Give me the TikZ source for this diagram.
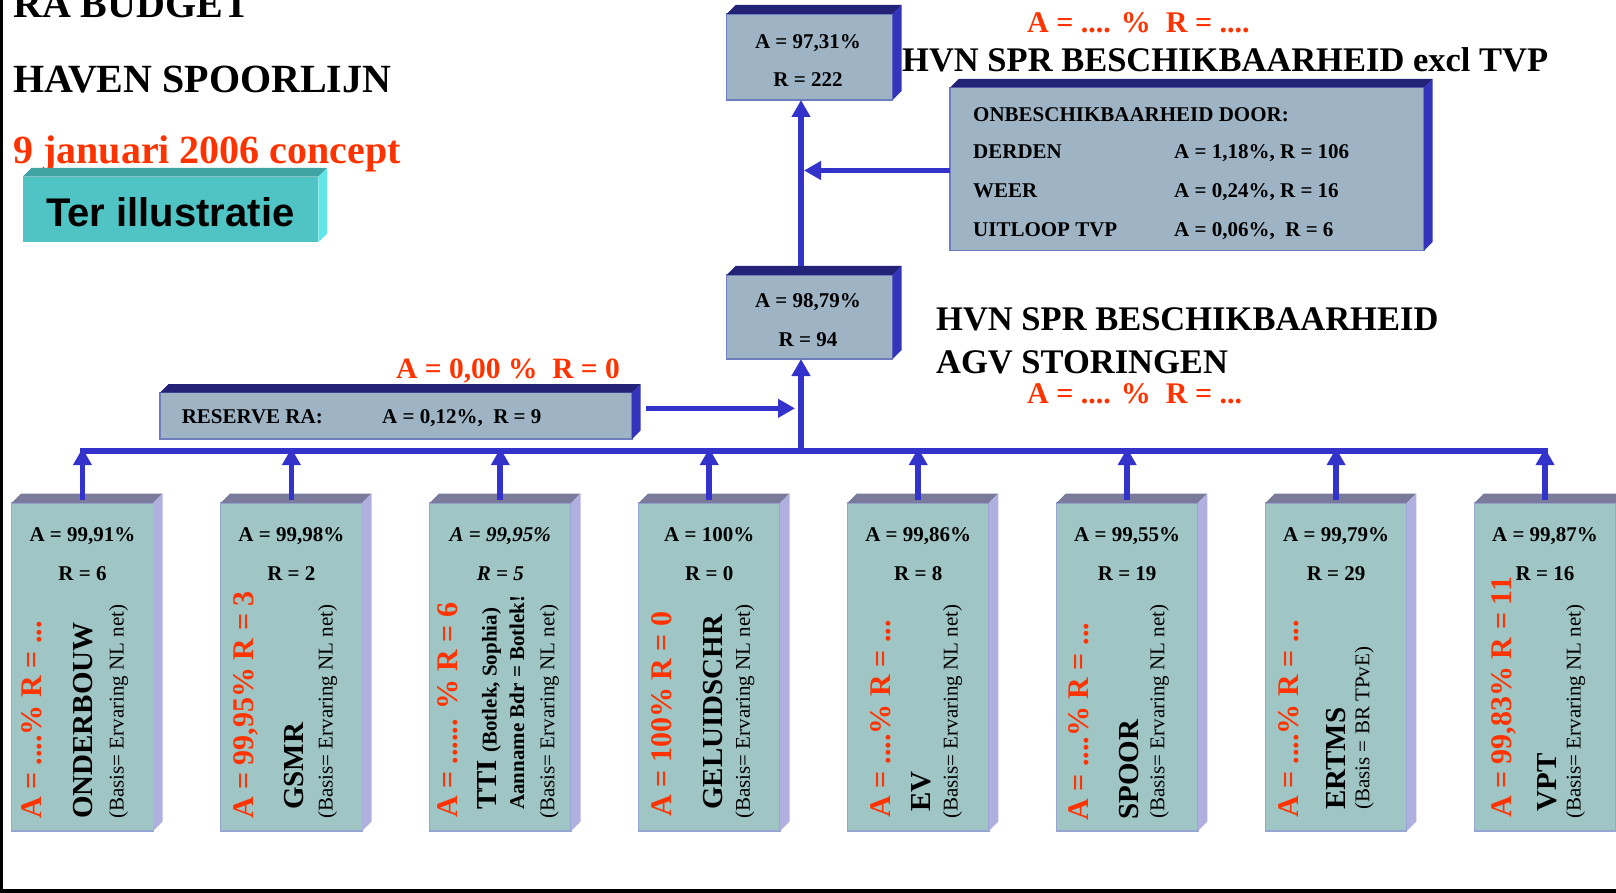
\documentclass[tikz,border=0pt]{standalone}
\usepackage{fontspec}
\setmainfont{Liberation Serif}
\newfontfamily\arialfont{Liberation Sans}
\usetikzlibrary{arrows.meta,calc}
\definecolor{hred}{RGB}{255,51,0}
\definecolor{lineblue}{RGB}{51,51,204}
\definecolor{ufront}{RGB}{158,180,197}
\definecolor{utop}{RGB}{34,34,119}
\definecolor{uside}{RGB}{51,51,187}
\definecolor{uedge}{RGB}{110,125,190}
\definecolor{lfront}{RGB}{160,197,197}
\definecolor{ltop}{RGB}{122,122,155}
\definecolor{lside}{RGB}{176,176,224}
\definecolor{ledge}{RGB}{150,165,210}
\definecolor{tfront}{RGB}{80,196,196}
\definecolor{ttop}{RGB}{64,164,164}
\definecolor{tside}{RGB}{96,230,230}
\newcommand\fs[1]{\fontsize{#1}{#1}\selectfont}
\newcommand\boxfaces[4]{%
  \fill[#3] (#1.north west) -- ++(#2,-#2) -- ([shift={(#2,-#2)}]#1.north east) -- (#1.north east) -- cycle;
  \fill[#4] (#1.north east) -- ++(#2,-#2) -- ([shift={(#2,-#2)}]#1.south east) -- (#1.south east) -- cycle;
}
\begin{document}
\begin{tikzpicture}[x=1pt,y=-1pt,
  ubox/.style={draw=uedge,line width=1.2pt,fill=ufront,inner sep=0,outer sep=0},
  lbox/.style={draw=ledge,line width=1.2pt,fill=lfront,inner sep=0,outer sep=0,minimum width=141.5pt,minimum height=328pt},
  conn/.style={draw=lineblue,line width=5.7pt},
  arr/.style={conn,-{Triangle[length=17pt,width=18pt]}},
  title/.style={anchor=base west,inner sep=0,font=\fs{40}\bfseries},
  head/.style={anchor=base west,inner sep=0,font=\fs{34.5}\bfseries},
  redt/.style={anchor=base west,inner sep=0,text=hred,font=\fs{30}\bfseries},
  btxt/.style={anchor=base,inner sep=0,font=\fs{21}\bfseries},
  ltxt/.style={anchor=base west,inner sep=0,font=\fs{21}\bfseries},
  redv/.style={rotate=90,anchor=base west,inner sep=0,text=hred,font=\fs{30}\bfseries},
  namev/.style={rotate=90,anchor=base west,inner sep=0,font=\fs{29}\bfseries},
  smallv/.style={rotate=90,anchor=base west,inner sep=0,font=\fs{21}\bfseries},
  basisv/.style={rotate=90,anchor=base west,inner sep=0,font=\fs{21}}
]
\useasboundingbox (0,0) rectangle (1616,893);
% frame edges
\fill[black] (0,0) rectangle (3.3,893);
\fill[black] (0,889.3) rectangle (1616,893);

% titles
\node[title] (t1) at (13,18) {RA BUDGET};
\node[title] (t2) at (13,92.7) {HAVEN SPOORLIJN};
\node[title,text=hred] (t3) at (13,164) {9 januari 2006 concept};

% Ter illustratie
\node[fill=tfront,inner sep=0,outer sep=0,minimum width=295.6pt,minimum height=65.6pt] (ter) at (170.5,209.5) {};
\boxfaces{ter}{8.7}{ttop}{tside}
\node[anchor=base west,inner sep=0,font=\arialfont\bfseries\fs{40}] (tertxt) at (46,226.7) {Ter illustratie};

% upper boxes
\node[ubox,minimum width=166pt,minimum height=86pt] (topbox) at (809.5,57) {};
\boxfaces{topbox}{9}{utop}{uside}
\node[ubox,minimum width=166pt,minimum height=84pt] (midbox) at (809.5,317) {};
\boxfaces{midbox}{9}{utop}{uside}
\node[ubox,minimum width=474pt,minimum height=163pt] (onbox) at (1187,169) {};
\boxfaces{onbox}{8.7}{utop}{uside}
\node[ubox,minimum width=472pt,minimum height=46.3pt] (resbox) at (396,415.85) {};
\boxfaces{resbox}{8.7}{utop}{uside}

% lower boxes
\foreach \i in {1,...,8}{
  \node[lbox] (b\i) at ({11.7+(\i-1)*208.94+70.75},667) {};
  \boxfaces{b\i}{9.5}{ltop}{lside}
}

% connectors
\coordinate (barc) at (0,451);
\coordinate (bartop) at (0,448.2);
\coordinate (mline) at (801,451);
\draw[conn,line cap=rect] (b1.north |- barc) -- (b8.north |- barc);
\foreach \i in {1,...,8}{
  \draw[arr] ([yshift=3pt]b\i.north) -- (b\i.north |- bartop);
}
\draw[arr] (mline) -- (midbox.south -| mline);
\draw[arr] ($(midbox.north -| mline)+(0,-9)$) -- (topbox.south -| mline);
\draw[arr] ($(onbox.west)+(0,1.5)$) -- ($(onbox.west -| mline)+(3,1.5)$);
\draw[arr] ($(resbox.east)+(14,-7.5)$) -- ($(resbox.east -| mline)+(-6,-7.5)$);

% upper texts
\node[btxt] (tb1) at (808,48.6) {A = 97,31\%};
\node[btxt] (tb2) at (808,87) {R = 222};
\node[btxt] (mb1) at (808,307) {A = 98,79\%};
\node[btxt] (mb2) at (808,346) {R = 94};
\node[redt] (r1) at (1027,33) {A = .... \%\ \ R = ....};
\node[head] (h1) at (902,72) {HVN SPR BESCHIKBAARHEID excl TVP};
\node[head] (h2) at (936,330) {HVN SPR BESCHIKBAARHEID};
\node[head] (h3) at (936,373) {AGV STORINGEN};
\node[redt] (r2) at (1027,403) {A = .... \%\ \ R = ...};
\node[redt,font=\fs{29.5}\bfseries] (r3) at (396,378.5) {A = 0,00 \%\ \ R = 0};

\node[ltxt] (o1) at (973,122) {ONBESCHIKBAARHEID DOOR:};
\node[ltxt] (o2) at (973,158.6) {DERDEN};
\node[ltxt] (o3) at (973,197.6) {WEER};
\node[ltxt] (o4) at (973,236.2) {UITLOOP TVP};
\node[ltxt] (o2b) at (1174,158.6) {A = 1,18\%, R = 106};
\node[ltxt] (o3b) at (1174,197.6) {A = 0,24\%, R = 16};
\node[ltxt] (o4b) at (1174,236.2) {A = 0,06\%,\ \ R = 6};

\node[ltxt] (rs1) at (181.6,423.5) {RESERVE RA:};
\node[ltxt] (rs2) at (382,423.5) {A = 0,12\%,\ \ R = 9};

% lower box texts
\node[btxt] (b1a) at (82.45,541.7) {A = 99,91\%};
\node[btxt] (b1r) at (82.45,580) {R = 6};
\node[redv] (b1x) at (41.4,819) {A = ....\% R = ...};
\node[namev] (b1n) at (92.4,819) {ONDERBOUW};
\node[basisv] (b1b) at (123.7,819) {(Basis= Ervaring NL net)};

\node[btxt] (b2a) at (291.39,541.7) {A = 99,98\%};
\node[btxt] (b2r) at (291.39,580) {R = 2};
\node[redv] (b2x) at (253.9,819) {A = 99,95\% R = 3};
\node[namev] (b2n) at (303.9,810) {GSMR};
\node[basisv] (b2b) at (332.6,819) {(Basis= Ervaring NL net)};

\node[btxt,font=\fs{21}\bfseries\itshape] (b3a) at (500.33,541.7) {A = 99,95\%};
\node[btxt,font=\fs{21}\bfseries\itshape] (b3r) at (500.33,580) {R = 5};
\node[redv] (b3x) at (457.6,818) {A = ...... \% R = 6};
\node[namev] (b3n) at (496.5,810) {TTI {\fs{21}(Botlek, Sophia)}};
\node[smallv] (b3m) at (524.2,810) {Aanname Bdr = Botlek!};
\node[basisv] (b3b) at (554.3,819) {(Basis= Ervaring NL net)};

\node[btxt] (b4a) at (709.27,541.7) {A = 100\%};
\node[btxt] (b4r) at (709.27,580) {R = 0};
\node[redv] (b4x) at (671.5,816.7) {A = 100\% R = 0};
\node[namev] (b4n) at (722.5,810) {GELUIDSCHR};
\node[basisv] (b4b) at (749.8,819) {(Basis= Ervaring NL net)};

\node[btxt] (b5a) at (918.21,541.7) {A = 99,86\%};
\node[btxt] (b5r) at (918.21,580) {R = 8};
\node[redv] (b5x) at (890.1,818) {A = ....\% R = ...};
\node[namev] (b5n) at (930.1,811.7) {EV};
\node[basisv] (b5b) at (957.5,819) {(Basis= Ervaring NL net)};

\node[btxt] (b6a) at (1127.15,541.7) {A = 99,55\%};
\node[btxt] (b6r) at (1127.15,580) {R = 19};
\node[redv] (b6x) at (1088.7,820.7) {A = ....\% R = ...};
\node[namev] (b6n) at (1138.7,820) {SPOOR};
\node[basisv] (b6b) at (1164.4,819) {(Basis= Ervaring NL net)};

\node[btxt] (b7a) at (1336.09,541.7) {A = 99,79\%};
\node[btxt] (b7r) at (1336.09,580) {R = 29};
\node[redv] (b7x) at (1298.6,818) {A = ....\% R = ...};
\node[namev] (b7n) at (1345.3,810) {ERTMS};
\node[basisv] (b7b) at (1369.3,810) {(Basis = BR TPvE)};

\node[btxt] (b8a) at (1545.03,541.7) {A = 99,87\%};
\node[btxt] (b8r) at (1545.03,580) {R = 16};
\node[redv] (b8x) at (1511.7,818) {A = 99,83\% R = 11};
\node[namev] (b8n) at (1556.7,811.7) {VPT};
\node[basisv] (b8b) at (1580.7,819) {(Basis= Ervaring NL net)};
\end{tikzpicture}
\end{document}
